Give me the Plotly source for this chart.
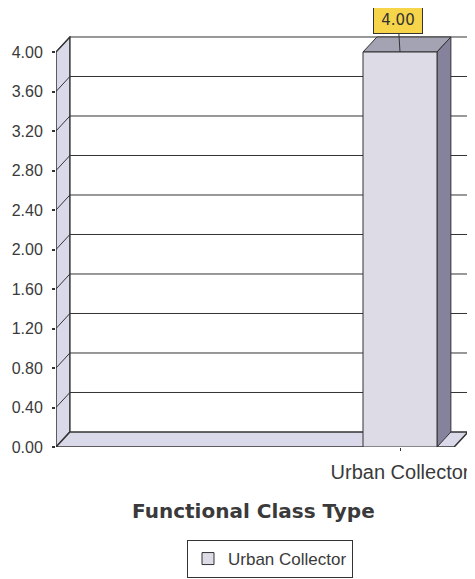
import plotly.graph_objects as go

# data
categories = ["Urban Collector"]
values = [4.00]
y_ticks = [0.0, 0.4, 0.8, 1.2, 1.6, 2.0, 2.4, 2.8, 3.2, 3.6, 4.0]
x_title = "Functional Class Type"

# fake 3d look: depth of the box in data units
x_lo, x_hi = -3.719, 0.735
y_hi = 4.162
dx, dy = 0.15, 0.152
bar_w = 0.8

W, H = 475, 579
OFF = 8  # page body margin, positions below are in screen pixels
ink = "#333333"
wall = "#dad9ea"
front = "#dcdbe6"
top_face = "#a4a3b4"
side_face = "#85839c"


def px(x):
    return (x - OFF) / W


def py(y):
    return 1 - (y - OFF) / H


x_pos = list(range(len(categories)))

fig = go.Figure()
fig.add_trace(go.Bar(x=x_pos, y=values, width=bar_w, name=categories[0],
                     marker=dict(color=front, line=dict(color=ink, width=1)),
                     showlegend=True))

shapes = []
# left side wall
shapes.append(dict(type="path", xref="x", yref="y", layer="below",
                   path=f"M{x_lo},0 L{x_lo},{y_ticks[-1]} L{x_lo+dx},{y_ticks[-1]+dy} L{x_lo+dx},{dy} Z",
                   fillcolor=wall, line=dict(color=ink, width=1.5)))
# floor
shapes.append(dict(type="path", xref="x", yref="y", layer="below",
                   path=f"M{x_lo},0 L{x_hi-dx},0 L{x_hi},{dy} L{x_lo+dx},{dy} Z",
                   fillcolor=wall, line=dict(color=ink, width=1.5)))
# grid lines on side wall and back wall
for v in y_ticks[1:]:
    shapes.append(dict(type="line", xref="x", yref="y", layer="below",
                       x0=x_lo, y0=v, x1=x_lo+dx, y1=v+dy, line=dict(color=ink, width=1)))
    shapes.append(dict(type="line", xref="x", yref="y", layer="below",
                       x0=x_lo+dx, y0=v+dy, x1=x_hi, y1=v+dy, line=dict(color=ink, width=1)))
# top and side of each bar
for xp, v in zip(x_pos, values):
    l, r = xp - bar_w/2, xp + bar_w/2
    shapes.append(dict(type="path", xref="x", yref="y", layer="below",
                       path=f"M{l},{v} L{r},{v} L{r+dx},{v+dy} L{l+dx},{v+dy} Z",
                       fillcolor=top_face, line=dict(color=ink, width=1)))
    shapes.append(dict(type="path", xref="x", yref="y", layer="below",
                       path=f"M{r},0 L{r+dx},{dy} L{r+dx},{v+dy} L{r},{v} Z",
                       fillcolor=side_face, line=dict(color=ink, width=1)))

annotations = []
for xp, v in zip(x_pos, values):
    annotations.append(dict(x=xp, y=v, xref="x", yref="y", text=f"{v:.2f}",
                            showarrow=True, arrowhead=0, arrowwidth=1, arrowcolor=ink,
                            ax=-2, ay=-32, width=40, bgcolor="#f6d54a", bordercolor=ink,
                            borderwidth=1, borderpad=4,
                            font=dict(family="DejaVu Sans", size=15, color=ink)))
annotations.append(dict(x=px(253), y=py(511), xref="paper", yref="paper", showarrow=False,
                        text=f"<b>{x_title}</b>", xanchor="center", yanchor="middle",
                        font=dict(family="DejaVu Sans", size=20, color="#3a3a3a")))

# zero margins, plot area placed through the axis domains so nothing gets pushed
fig.update_layout(
    width=W, height=H,
    margin=dict(l=0, r=0, t=0, b=0),
    paper_bgcolor="white", plot_bgcolor="white",
    shapes=shapes, annotations=annotations,
    font=dict(family="Liberation Sans", color="#3a3a3a"),
    legend=dict(x=px(270), y=py(540), xanchor="center", yanchor="top",
                bordercolor=ink, borderwidth=1, bgcolor="white",
                font=dict(family="Liberation Sans", size=17, color="#3a3a3a")),
)
fig.update_xaxes(domain=[px(56), px(468)], range=[x_lo, x_hi], tickvals=x_pos, ticktext=categories,
                 showgrid=False, zeroline=False, showline=False, automargin=False,
                 ticks="outside", ticklen=3, tickcolor=ink, ticklabelstandoff=4,
                 tickfont=dict(size=20, color="#3a3a3a"))
fig.update_yaxes(domain=[py(447), py(36)], range=[0, y_hi], tickvals=y_ticks, tickformat=".2f",
                 showgrid=False, zeroline=False, showline=False, automargin=False,
                 ticks="outside", ticklen=3, tickwidth=2, tickcolor=ink, ticklabelstandoff=6,
                 tickfont=dict(size=16, color="#3a3a3a"))

fig.write_html("out.html")
